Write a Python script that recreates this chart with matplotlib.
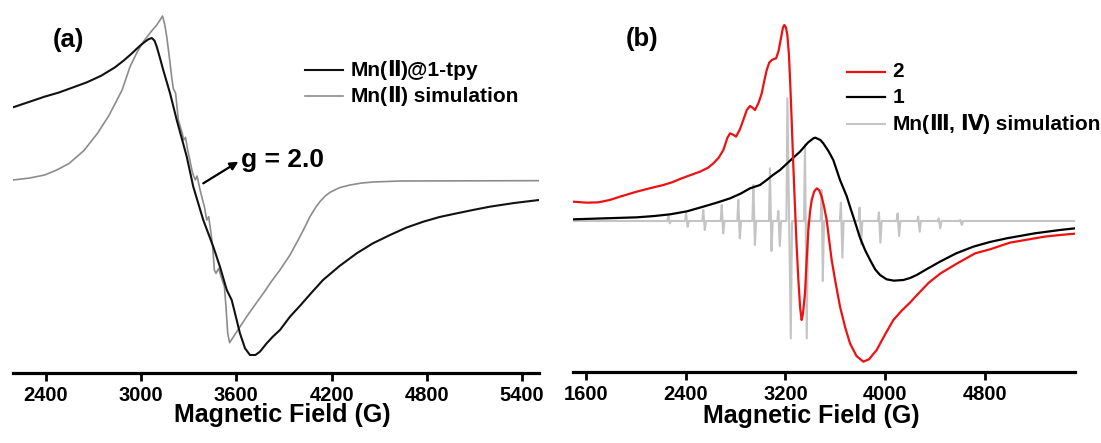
import matplotlib
matplotlib.use("Agg")
import matplotlib.pyplot as plt
from matplotlib.lines import Line2D
from matplotlib.offsetbox import DrawingArea, TextArea, HPacker, VPacker, AnchoredOffsetbox

plt.rcParams['font.family'] = ['Liberation Sans', 'DejaVu Sans']
plt.rcParams['font.weight'] = 'bold'

# ----------------------------------------------- panel (a) data
field_a_exp = [2194, 2300, 2393, 2480, 2550, 2659, 2750, 2836, 2890, 2931, 2965, 2994,
               3020, 3046, 3068, 3085, 3099, 3120, 3140, 3183, 3225, 3288, 3329, 3392,
               3455, 3497, 3540, 3571, 3592, 3623, 3655, 3686, 3720, 3749, 3791, 3830,
               3875, 3938, 4000, 4070, 4146, 4250, 4358, 4460, 4568, 4670, 4778, 4880,
               4988, 5100, 5197, 5350, 5506]
int_a_exp = [21.8, 23.5, 25.0, 26.2, 27.4, 29.3, 31.3, 33.8, 35.8, 37.5, 39.0, 40.3,
             41.3, 42.2, 42.6, 41.8, 40.0, 36.5, 33.0, 26.0, 18.0, 7.0, -2.0, -12.0,
             -20.0, -26.0, -33.0, -36.0, -40.0, -46.0, -50.5, -52.5, -52.5, -51.5, -49.0, -47.0,
             -45.0, -41.0, -37.8, -34.0, -30.0, -25.8, -22.0, -19.0, -16.5, -14.3, -12.5, -11.1,
             -10.0, -8.9, -8.0, -6.9, -6.0]

field_a_sim = [2194, 2300, 2393, 2470, 2548, 2640, 2726, 2800, 2881, 2931, 2975, 3015,
               3060, 3099, 3120, 3135, 3148, 3162, 3178, 3193, 3203, 3218, 3235, 3260,
               3268, 3280, 3294, 3325, 3342, 3353, 3372, 3399, 3414, 3426, 3441, 3451,
               3462, 3472, 3489, 3504, 3525, 3535, 3546, 3558, 3610, 3665, 3720, 3770,
               3820, 3875, 3938, 4001, 4035, 4064, 4100, 4130, 4160, 4190, 4250, 4316,
               4390, 4463, 4631, 5506]
int_a_sim = [0.0, 0.6, 1.5, 3.0, 5.0, 8.8, 14.0, 19.5, 27.0, 34.0, 38.3, 41.5,
             44.3, 46.5, 48.0, 49.2, 47.0, 43.0, 37.0, 31.0, 27.5, 26.0, 18.0, 14.0,
             12.0, 12.8, 9.0, 2.0, 0.0, 1.2, -3.0, -8.0, -12.0, -11.0, -16.0, -20.0,
             -27.0, -28.0, -26.5, -29.0, -32.0, -38.0, -46.0, -48.8, -45.0, -41.0, -37.3, -34.0,
             -30.5, -27.0, -22.5, -17.0, -13.8, -11.0, -8.2, -6.3, -4.8, -3.7, -2.3, -1.5,
             -0.9, -0.6, -0.3, -0.2]

ticks_a = [2400, 3000, 3600, 4200, 4800, 5400]

# ----------------------------------------------- panel (b) data
field_b_2 = [1496, 1606, 1700, 1790, 1873, 2007, 2110, 2221, 2290, 2354, 2440, 2515,
             2580, 2622, 2665, 2702, 2735, 2756, 2780, 2804, 2835, 2862, 2890, 2916,
             2936, 2956, 2985, 3010, 3030, 3050, 3070, 3090, 3108, 3125, 3145, 3165,
             3180, 3191, 3203, 3215, 3228, 3240, 3250, 3263, 3277, 3290, 3304, 3318,
             3330, 3340, 3357, 3370, 3384, 3398, 3411, 3430, 3451, 3470, 3491, 3510,
             3531, 3550, 3571, 3600, 3638, 3680, 3718, 3770, 3825, 3870, 3932, 4000,
             4066, 4130, 4199, 4253, 4350, 4445, 4574, 4722, 4841, 5000, 5108, 5277,
             5402, 5523]
int_b_2 = [5.8, 5.5, 5.6, 6.3, 7.3, 8.8, 9.8, 10.8, 11.6, 12.6, 13.8, 14.8,
           16.0, 17.3, 19.0, 21.3, 25.0, 26.3, 25.9, 25.3, 27.5, 30.3, 33.3, 34.5,
           34.0, 33.3, 35.5, 38.3, 42.0, 45.3, 47.5, 48.3, 48.6, 48.8, 51.0, 55.0,
           58.0, 58.8, 58.2, 56.0, 50.0, 40.0, 30.3, 17.0, 4.0, -7.5, -17.7, -26.0,
           -29.7, -28.0, -21.7, -12.0, -2.7, 3.0, 6.3, 8.8, 9.8, 9.3, 7.3, 4.3,
           0.3, -5.5, -11.7, -18.0, -25.7, -32.0, -36.7, -40.5, -42.2, -41.5, -38.7, -34.0,
           -29.7, -27.0, -24.5, -22.3, -18.5, -15.7, -12.8, -9.7, -8.5, -6.5, -5.8, -4.7,
           -4.2, -3.8]

field_b_1 = [1496, 1750, 2007, 2150, 2274, 2410, 2541, 2650, 2756, 2840, 2916, 2996,
             3050, 3100, 3157, 3240, 3317, 3380, 3424, 3440, 3480, 3504, 3545, 3584,
             3638, 3691, 3718, 3760, 3798, 3840, 3879, 3920, 3959, 4012, 4070, 4146,
             4200, 4253, 4340, 4440, 4570, 4707, 4840, 4975, 5200, 5402, 5523]
int_b_1 = [0.5, 0.8, 1.1, 1.5, 2.0, 2.9, 4.3, 5.5, 6.8, 8.2, 9.8, 10.8,
           12.3, 13.8, 15.3, 18.2, 20.8, 23.5, 24.8, 25.0, 24.3, 23.3, 21.0, 18.3,
           12.3, 7.5, 4.3, -0.5, -5.0, -8.8, -11.7, -14.5, -16.2, -17.5, -17.9, -17.7,
           -17.1, -16.2, -14.3, -12.2, -9.7, -7.7, -6.3, -5.2, -3.7, -2.7, -2.2]

# hyperfine lines of the Mn(III,IV) simulation: field of the top, top value,
# field of the bottom, bottom value
spike_top_field = [2261, 2403, 2541, 2689, 2822, 2943, 3076, 3143, 3216, 3357, 3491,
                   3645, 3795, 3950, 4100, 4265, 4430, 4603]
spike_top = [1.5, 2.3, 3.3, 4.8, 6.3, 10.8, 15.8, 3.0, 36.8, 23.0, 9.3,
             5.5, 4.0, 2.6, 2.3, 1.3, 0.8, 0.3]
spike_low_field = [2273, 2415, 2553, 2701, 2834, 2955, 3088, 3155, 3243, 3371, 3500,
                   3657, 3807, 3962, 4112, 4277, 4442, 4615]
spike_low = [-0.7, -1.7, -2.7, -3.7, -5.2, -7.2, -9.0, -7.5, -35.2, -35.2, -18.0,
             -11.0, -7.0, -6.5, -4.5, -3.2, -2.2, -1.2]
sim_b_range = [1496, 5523]

ticks_b = [1600, 2400, 3200, 4000, 4800]

W, H = 1101, 443
ROMAN = 'DejaVu Sans'


def fx(px):
    return px / W


def fy(py):
    return 1 - py / H


# -----------------------------------------------
def style_axis(ax, xlim, ylim, ticks):
    ax.set_xlim(*xlim)
    ax.set_ylim(*ylim)
    for side in ['left', 'right', 'top']:
        ax.spines[side].set_visible(False)
    ax.spines['bottom'].set_linewidth(2.3)
    ax.set_yticks([])
    ax.set_xticks(ticks)
    ax.tick_params(axis='x', direction='out', length=5.5, width=2.0, pad=4, labelsize=14.5)
    for lab in ax.get_xticklabels():
        lab.set_fontweight('bold')


# -----------------------------------------------
def sim_line():
    xs = [sim_b_range[0]]
    ys = [0.0]
    for t, tv, l, lv in zip(spike_top_field, spike_top, spike_low_field, spike_low):
        xs += [t - 8, t, l, l + 10]
        ys += [0.0, tv, lv, 0.0]
    xs.append(sim_b_range[1])
    ys.append(0.0)
    return xs, ys


# -----------------------------------------------
def legend_row(color, lw, parts):
    da = DrawingArea(27, 10, 0, 0)
    da.add_artist(Line2D([0, 27], [5, 5], color=color, lw=lw))
    texts = []
    for s, fam in parts:
        props = dict(size=15, weight='bold')
        if fam:
            props['family'] = fam
        texts.append(TextArea(s, textprops=props))
    return HPacker(children=[da, HPacker(children=texts, sep=0, pad=0, align='baseline')],
                   sep=5.5, pad=0, align='center')


def add_legend(ax, rows, x_px, y_px, sep):
    box = VPacker(children=rows, sep=sep, pad=0, align='left')
    anchored = AnchoredOffsetbox(loc='upper left', child=box, pad=0, borderpad=0,
                                 frameon=False, bbox_to_anchor=(fx(x_px), fy(y_px)),
                                 bbox_transform=ax.figure.transFigure)
    ax.add_artist(anchored)


fig = plt.figure(figsize=(W / 100, H / 100), dpi=100)

# ----------------------------------------------- (a)
ax_a = fig.add_axes([fx(13), fy(373), (539 - 13) / W, (373 - 8) / H])
ax_a.plot(field_a_sim, int_a_sim, color='#8c8c8c', lw=1.2)
ax_a.plot(field_a_exp, int_a_exp, color='#111111', lw=1.5)
style_axis(ax_a, (2194, 5506), (-57.9, 51.6), ticks_a)

ax_a.annotate('', xy=(3613, 5.5), xytext=(3392, -1.0),
              arrowprops=dict(arrowstyle='-|>', color='black', lw=1.6,
                              mutation_scale=12, shrinkA=0, shrinkB=0))
ax_a.text(3630, 3.9, 'g = 2.0', fontsize=19, fontweight='bold', va='baseline', ha='left')

add_legend(ax_a, [
    legend_row('#111111', 1.5, [('Mn(', None), ('Ⅱ', ROMAN), (')@1-tpy', None)]),
    legend_row('#8c8c8c', 1.2, [('Mn(', None), ('Ⅱ', ROMAN), (') simulation', None)]),
], 305, 60, 4)

fig.text(fx(53), fy(40), '(a)', fontsize=18.5, fontweight='bold', ha='left', va='center')
fig.text(fx(282), fy(415), 'Magnetic Field (G)', fontsize=18, fontweight='bold',
         ha='center', va='center')

# ----------------------------------------------- (b)
ax_b = fig.add_axes([fx(573), fy(372), (1075 - 573) / W, (372 - 8) / H])
sx, sy = sim_line()
ax_b.plot(sx, sy, color='#c4c4c4', lw=1.5)
ax_b.plot(field_b_1, int_b_1, color='black', lw=1.6)
ax_b.plot(field_b_2, int_b_2, color='#ee1111', lw=1.6)
style_axis(ax_b, (1496, 5523), (-45.3, 63.9), ticks_b)

add_legend(ax_b, [
    legend_row('#ee1111', 1.6, [('2', None)]),
    legend_row('black', 1.6, [('1', None)]),
    legend_row('#c4c4c4', 1.5, [('Mn(', None), ('Ⅲ', ROMAN), (', ', None), ('Ⅳ', ROMAN),
                                (') simulation', None)]),
], 847, 62, 5)

fig.text(fx(626), fy(39), '(b)', fontsize=18.5, fontweight='bold', ha='left', va='center')
fig.text(fx(811), fy(416), 'Magnetic Field (G)', fontsize=18, fontweight='bold',
         ha='center', va='center')

fig.savefig('out.png', dpi=100)
